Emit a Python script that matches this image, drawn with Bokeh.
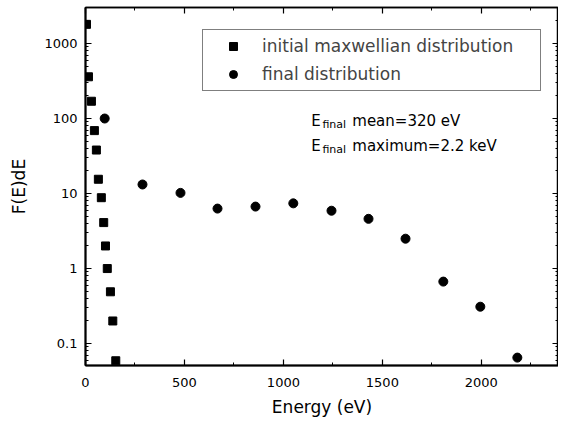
from bokeh.plotting import figure
from bokeh.models import (Range1d, LinearAxis, LogAxis, SingleIntervalTicker, FixedTicker,
                          CustomJSTickFormatter, Legend, LegendItem, Label)
from bokeh.embed import file_html
from bokeh.resources import INLINE

# --- data ---
init_E = [5, 15, 30, 45, 55, 65, 80, 92, 101, 110, 126, 138, 153]
init_F = [1800, 360, 170, 69, 38, 15.5, 8.8, 4.1, 2.0, 1.0, 0.49, 0.20, 0.059]
final_E = [97, 288, 480, 667, 859, 1050, 1243, 1430, 1617, 1808, 1995, 2182]
final_F = [100, 13.2, 10.2, 6.3, 6.7, 7.4, 5.9, 4.6, 2.5, 0.67, 0.31, 0.065]
legend_labels = ["initial maxwellian distribution", "final distribution"]
y_major = [0.1, 1, 10, 100, 1000]
y_minor = [m * 10.0 ** e for e in range(-2, 4) for m in range(2, 10)]

FONT = "DejaVu Sans"

p = figure(frame_width=473, frame_height=358, y_axis_type="log",
           x_range=Range1d(0, 2390), y_range=Range1d(0.051, 3020),
           output_backend="svg", toolbar_location=None,
           min_border_left=85, min_border_top=7, min_border_right=0, min_border_bottom=5)
p.background_fill_color = "white"
p.border_fill_color = "white"
p.xgrid.visible = False
p.ygrid.visible = False
p.outline_line_color = "black"
p.outline_line_width = 1.5

p.xaxis.ticker = SingleIntervalTicker(interval=500, num_minor_ticks=2)
p.yaxis.ticker = FixedTicker(ticks=y_major, minor_ticks=y_minor)
p.yaxis.formatter = CustomJSTickFormatter(code="return tick.toString();")

for ax in (p.xaxis[0], p.yaxis[0]):
    ax.axis_line_width = 2
    ax.major_tick_in = 6
    ax.major_tick_out = 0
    ax.minor_tick_in = 3
    ax.minor_tick_out = 0
    ax.major_tick_line_width = 1.2
    ax.major_label_text_font = FONT
    ax.major_label_text_font_size = "13px"
    ax.major_label_text_color = "black"
    ax.axis_label_text_font = FONT
    ax.axis_label_text_font_size = "17px"
    ax.axis_label_text_font_style = "normal"
    ax.axis_label_text_color = "black"

p.xaxis.axis_label = "Energy (eV)"
p.yaxis.axis_label = "F(E)dE"
p.xaxis.major_label_standoff = 12
p.xaxis.axis_label_standoff = 7
p.yaxis.major_label_standoff = 8
p.yaxis.axis_label_standoff = 12

top = LinearAxis(ticker=SingleIntervalTicker(interval=500, num_minor_ticks=2),
                 formatter=CustomJSTickFormatter(code="return '';"))
right = LogAxis(ticker=FixedTicker(ticks=y_major, minor_ticks=y_minor),
                formatter=CustomJSTickFormatter(code="return '';"))
for ax in (top, right):
    ax.major_label_standoff = 0
    ax.axis_line_width = 1.5
    ax.major_tick_in = 6
    ax.major_tick_out = 0
    ax.minor_tick_in = 3
    ax.minor_tick_out = 0
    ax.major_tick_line_width = 1.2
p.add_layout(top, "above")
p.add_layout(right, "right")

r1 = p.scatter(init_E, init_F, marker="square", size=8, color="black")
r2 = p.scatter(final_E, final_F, marker="circle", size=9, color="black")

legend = Legend(items=[LegendItem(label=legend_labels[0], renderers=[r1]),
                       LegendItem(label=legend_labels[1], renderers=[r2])],
                location=(117, 274), margin=0, padding=6, spacing=8,
                glyph_width=48, glyph_height=20, label_height=20, label_width=272,
                label_standoff=5,
                label_text_font=FONT, label_text_font_size="17px",
                border_line_color="black", border_line_width=1.2,
                background_fill_alpha=1.0)
p.add_layout(legend)

def ann(x, y, text, size):
    p.add_layout(Label(x=x, y=y, text=text, text_font=FONT, text_font_size=size,
                       text_color="black", text_baseline="alphabetic"))

ann(1141, 94, "E", "15px")
ann(1197, 83, "final", "11px")
ann(1348, 94, "mean=320 eV", "15px")
ann(1141, 43.6, "E", "15px")
ann(1197, 38.6, "final", "11px")
ann(1348, 43.6, "maximum=2.2 keV", "15px")

open("out.html", "w").write(file_html(p, INLINE))
